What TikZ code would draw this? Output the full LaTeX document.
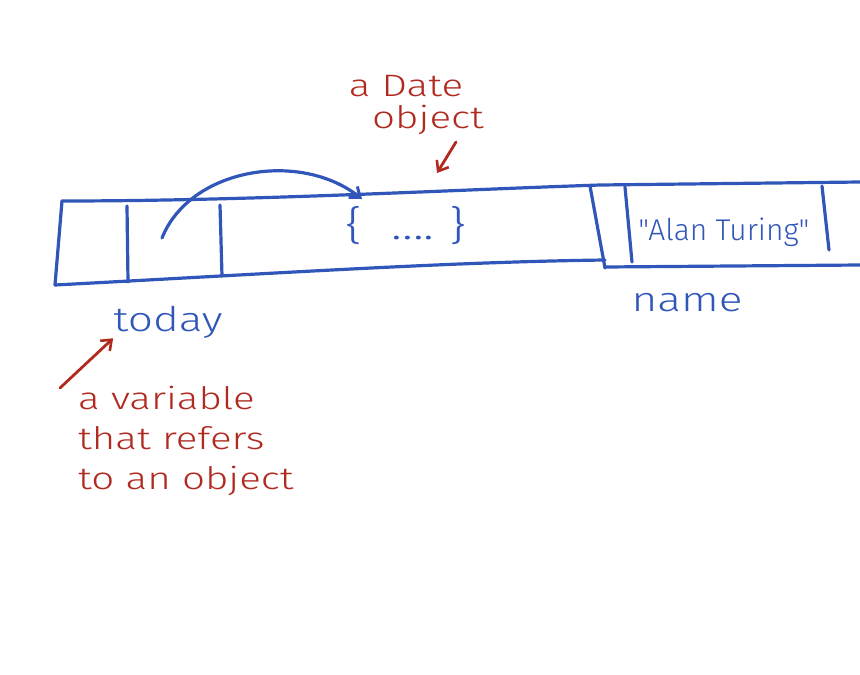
\documentclass[tikz,border=0pt]{standalone}
\usepackage{fontspec}
\setmainfont{Fira Sans}
\newfontfamily\hand[FakeStretch=1.3]{Fira Sans Light}
\newfontfamily\handn{Fira Sans Light}
\usetikzlibrary{arrows.meta}
\definecolor{pen}{HTML}{2F56B8}
\definecolor{ink}{HTML}{B02A20}
\begin{document}
\begin{tikzpicture}[x=1pt,y=-1pt,
  blueline/.style={draw=pen,line width=3.2pt,line cap=round,line join=round},
  redline/.style={draw=ink,line width=2.8pt,line cap=round,line join=round},
  bluetext/.style={text=pen,inner sep=0pt,font=\hand\fontsize{34}{40}\selectfont},
  redtext/.style={text=ink,inner sep=0pt,align=left,font=\hand\fontsize{31}{40}\selectfont},
  bluetip/.style={-{Straight Barb[length=9pt,width=14pt,line width=3pt]}},
  redtip/.style={-{Straight Barb[length=9pt,width=14pt,line width=2.6pt]}}]
\useasboundingbox (0,0) rectangle (860,675);
% memory strip
\draw[blueline] (62,201) .. controls (250,201) and (450,190) .. (600,185) -- (860,182);
\draw[blueline] (62,201) -- (55,285);
\draw[blueline] (55,285) .. controls (300,272) and (450,262) .. (605,260);
\draw[blueline] (605,267) -- (860,265);
\draw[blueline] (127,206) -- (128,282);
\draw[blueline] (220,205) -- (222,276);
\draw[blueline] (590,186) -- (605,268);
\draw[blueline] (625,187) -- (632,262);
\draw[blueline] (822,186) -- (829,250);
% contents
\node[bluetext,font=\hand\fontsize{40}{44}\selectfont] (obj) at (406,226) {\{\ \ ....\ \}};
\coordinate (objtop) at (362,199);
\coordinate (ptr) at (162,238);
\node[bluetext,font=\handn\fontsize{30}{34}\selectfont] (alan) at (724,232) {"Alan Turing"};
\node[bluetext] (today) at (168,322) {today};
\node[bluetext] (name) at (687,303) {name};
\draw[blueline,bluetip] (ptr) .. controls (190,168) and (300,150) .. (objtop);
% annotations
\node[redtext] (adate) at (406,86) {a Date};
\node[redtext] (object) at (428,120) {object};
\coordinate (dtip) at (437,173);
\draw[redline,redtip] (object.south) ++(28,7) coordinate (dstart) (dstart) -- (dtip);
\node[redtext,anchor=north west] (note) at (78,386) {a variable\\that refers\\to an object};
\coordinate (vstart) at (60,388);
\draw[redline,redtip] (vstart) -- (today.south west);
\end{tikzpicture}
\end{document}
